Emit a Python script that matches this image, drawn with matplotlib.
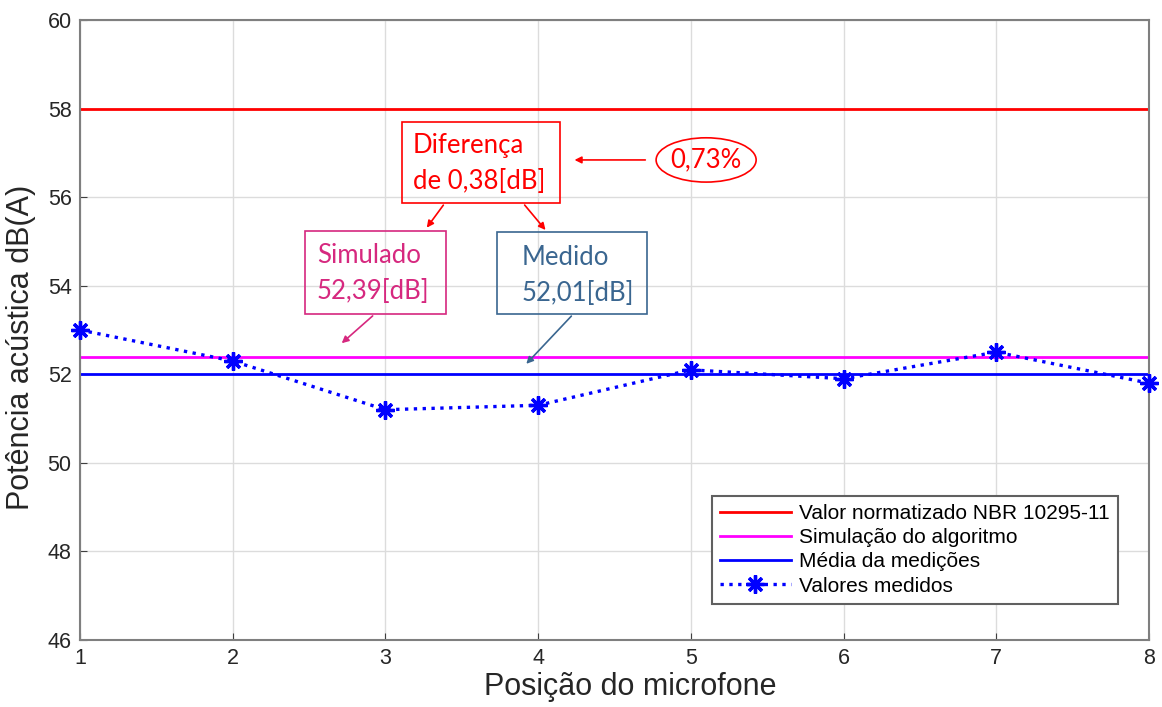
import numpy as np
import matplotlib
matplotlib.use('Agg')
import matplotlib.pyplot as plt
from matplotlib.patches import Rectangle, Ellipse

# dados
posicoes = [1, 2, 3, 4, 5, 6, 7, 8]
valores_medidos = [53.0, 52.3, 51.2, 51.3, 52.1, 51.9, 52.5, 51.8]
valor_norma = 58.0
valor_simulado = 52.39
media_medicoes = 52.01

labels = ["Valor normatizado NBR 10295-11", "Simulação do algoritmo",
          "Média da medições", "Valores medidos"]

plt.rcParams['font.family'] = ['Liberation Sans', 'DejaVu Sans']

fig = plt.figure(figsize=(11.62, 7.07), dpi=100)
ax = fig.add_axes([80 / 1162, 1 - 640 / 707, (1149 - 80) / 1162, (640 - 20) / 707])

ax.axhline(valor_norma, color='#ff0000', lw=2, label=labels[0])
ax.axhline(valor_simulado, color='#ff00ff', lw=2, label=labels[1])
ax.axhline(media_medicoes, color='#0000ff', lw=2, label=labels[2])
ax.plot(posicoes, valores_medidos, color='#0000ff', ls=':', lw=2.4, marker=(8, 2, 0),
        markersize=13, markeredgewidth=2.4, label=labels[3], clip_on=False, zorder=5)

ax.set_xlim(1, 8)
ax.set_ylim(46, 60)
ax.set_xticks(np.arange(1, 9, 1))
ax.set_yticks(np.arange(46, 61, 2))
ax.grid(color='#dcdcdc', lw=1)
ax.set_axisbelow(True)
ax.tick_params(labelsize=15.5, labelcolor='#262626', color='#404040',
               direction='in', length=5, pad=6)
for s in ax.spines.values():
    s.set_color('#7f7f7f')
    s.set_linewidth(1.5)
ax.set_xlabel('Posição do microfone', fontsize=22, color='#262626')
ax.set_ylabel('Potência acústica dB(A)', fontsize=22, color='#262626')
ax.xaxis.set_label_coords(0.5145, -0.052)
ax.yaxis.set_label_coords(-0.041, 0.4726)

leg = ax.legend(loc='lower right', bbox_to_anchor=(0.971, 0.058), fontsize=15,
                fancybox=False, framealpha=1, edgecolor='#606060',
                handlelength=3.4, borderpad=0.4, labelspacing=0.25,
                handletextpad=0.4, borderaxespad=0)
leg.get_frame().set_linewidth(1.5)

# anotações
anot_font = ['Lato', 'DejaVu Sans']
vermelho = '#ff0000'
magenta = '#d6287f'
azul = '#3a6690'
fs = 18.5

ax.add_patch(Rectangle((3.109, 55.87), 1.035, 1.83, fill=False, ec=vermelho, lw=1.2))
ax.text(3.18, 56.75, 'Diferença\nde 0,38[dB]', color=vermelho, fontsize=fs,
        family=anot_font, va='center', ha='left', linespacing=1.55)

ax.add_patch(Ellipse((5.10, 56.84), 0.655, 1.0, fill=False, ec=vermelho, lw=1.2))
ax.text(5.10, 56.84, '0,73%', color=vermelho, fontsize=fs, family=anot_font,
        va='center', ha='center')
ax.annotate('', xy=(4.22, 56.84), xytext=(4.72, 56.84),
            arrowprops=dict(arrowstyle='-|>', color=vermelho, lw=1.2))
ax.annotate('', xy=(3.26, 55.26), xytext=(3.39, 55.87),
            arrowprops=dict(arrowstyle='-|>', color=vermelho, lw=1.2))
ax.annotate('', xy=(4.06, 55.21), xytext=(3.90, 55.87),
            arrowprops=dict(arrowstyle='-|>', color=vermelho, lw=1.2))

ax.add_patch(Rectangle((2.473, 53.36), 0.924, 1.88, fill=False, ec=magenta, lw=1.2))
ax.text(2.55, 54.27, 'Simulado\n52,39[dB]', color=magenta, fontsize=fs,
        family=anot_font, va='center', ha='left', linespacing=1.55)
ax.annotate('', xy=(2.70, 52.66), xytext=(2.93, 53.36),
            arrowprops=dict(arrowstyle='-|>', color=magenta, lw=1.2))

ax.add_patch(Rectangle((3.731, 53.36), 0.982, 1.85, fill=False, ec=azul, lw=1.2))
ax.text(3.89, 54.23, 'Medido\n52,01[dB]', color=azul, fontsize=fs,
        family=anot_font, va='center', ha='left', linespacing=1.55)
ax.annotate('', xy=(3.91, 52.19), xytext=(4.23, 53.36),
            arrowprops=dict(arrowstyle='-|>', color=azul, lw=1.2))

plt.savefig('out.png', dpi=100)
